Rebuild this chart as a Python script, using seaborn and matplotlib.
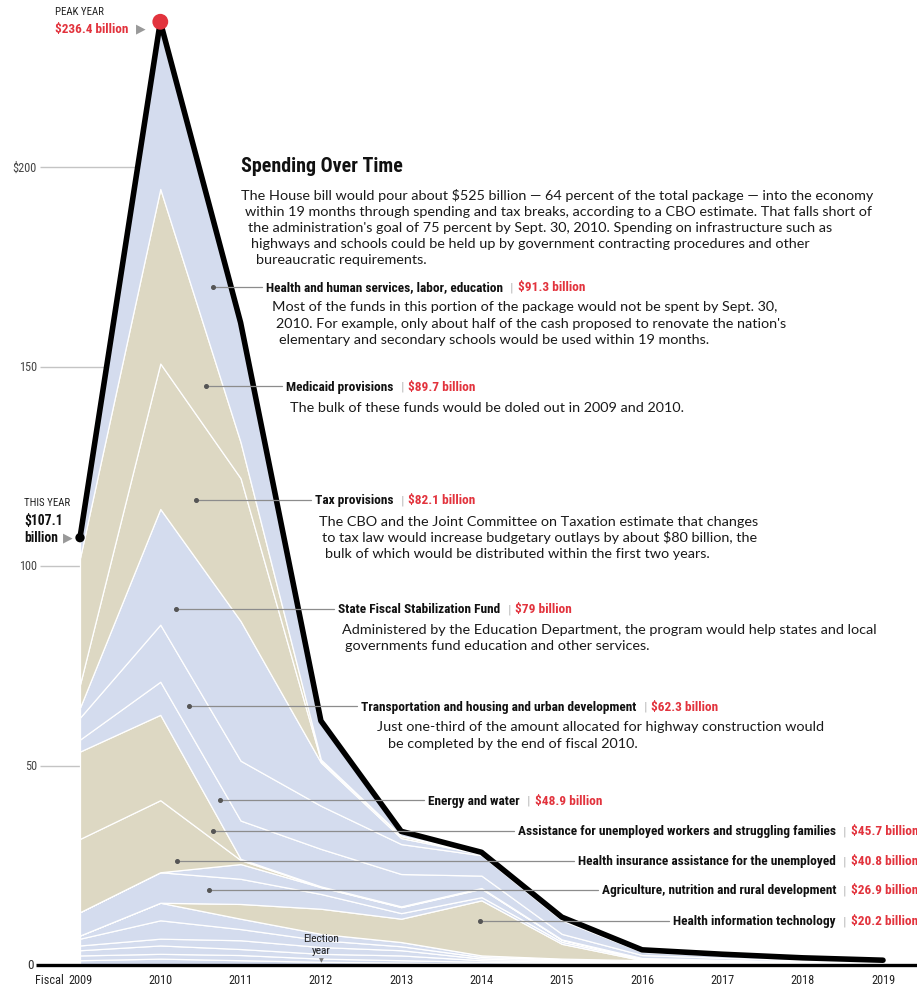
import numpy as np
import pandas as pd
import matplotlib
matplotlib.use("Agg")
import matplotlib.pyplot as plt
import seaborn as sns
from matplotlib import font_manager as fm
from matplotlib.lines import Line2D

# ---------------- data (billions of dollars, fiscal years) ----------------
years = [2009, 2010, 2011, 2012, 2013, 2014, 2015, 2016, 2017, 2018, 2019]

# smaller programs at the bottom of the stack
other_1 = [1.2, 1.6, 1.2, 0.8, 0.6, 0.3, 0.2, 0.15, 0.1, 0.1, 0.05]
other_2 = [1.2, 1.2, 1.3, 0.8, 0.6, 0.5, 0.3, 0.25, 0.2, 0.1, 0.05]
other_3 = [1.3, 2.1, 1.5, 1.2, 1.2, 0.4, 0.3, 0.2, 0.15, 0.1, 0.1]
other_4 = [1.2, 1.7, 2.2, 1.7, 1.3, 0.4, 0.3, 0.2, 0.15, 0.1, 0.05]
other_5 = [1.7, 4.6, 2.8, 1.7, 1.0, 0.4, 0.3, 0.2, 0.15, 0.1, 0.05]
other_6 = [0.8, 4.4, 2.6, 1.6, 1.05, 0.4, 0.2, 0.2, 0.15, 0.1, 0.1]
health_it = [0, 0, 3.7, 6.3, 5.85, 13.8, 3.7, 0, 0, 0, 0]
agriculture = [5.85, 7.65, 6.3, 3.7, 1.4, 0.8, 0.5, 0.3, 0.2, 0.15, 0.1]
other_7 = [0, 0, 3.7, 1.7, 1.5, 2.1, 0.5, 0.2, 0.15, 0.1, 0.05]
health_insurance = [18.35, 18.05, 1.0, 0.1, 0.1, 0.1, 0.05, 0, 0, 0, 0]
assistance = [21.9, 21.4, 0.3, 0.1, 0.1, 0.1, 0.05, 0.05, 0.05, 0.05, 0.05]
energy = [3.0, 8.3, 9.6, 9.4, 8.1, 3.1, 1.4, 0.75, 0.5, 0.3, 0.2]
transportation = [5.5, 14.3, 15.0, 10.8, 7.5, 5.1, 3.4, 0.8, 0.6, 0.4, 0.25]
state_fiscal = [2.5, 29.0, 35.0, 10.85, 1.5, 0.3, 0.3, 0.2, 0.1, 0.05, 0.05]
tax = [5.8, 36.45, 35.8, 0.45, 0.5, 0.1, 0.1, 0.05, 0.05, 0.05, 0.02]
medicaid = [31.7, 43.75, 9.0, 0.3, 0.1, 0.1, 0.1, 0.05, 0.05, 0.02, 0.02]
hhs = [5.1, 41.9, 30.0, 9.7, 1.1, 0.25, 0.3, 0.2, 0.1, 0.08, 0.06]

y_ticks = [0, 50, 100, 150, 200]
y_tick_labels = ["0", "50", "100", "150", "$200"]

labels = ["Health and human services, labor, education", "Medicaid provisions",
          "Tax provisions", "State Fiscal Stabilization Fund",
          "Transportation and housing and urban development", "Energy and water",
          "Assistance for unemployed workers and struggling families",
          "Health insurance assistance for the unemployed",
          "Agriculture, nutrition and rural development", "Health information technology"]
amounts = ["$91.3 billion", "$89.7 billion", "$82.1 billion", "$79 billion",
           "$62.3 billion", "$48.9 billion", "$45.7 billion", "$40.8 billion",
           "$26.9 billion", "$20.2 billion"]

BLUE = "#d4dcee"
BEIGE = "#ddd8c3"
RED = "#e2333d"

layers = [other_1, other_2, other_3, other_4, other_5, other_6, health_it, agriculture,
          other_7, health_insurance, assistance, energy, transportation, state_fiscal,
          tax, medicaid, hhs]
colors = [BLUE] * 6 + [BEIGE, BLUE, BLUE, BEIGE, BEIGE, BLUE, BLUE, BLUE, BEIGE, BEIGE, BLUE]
total = np.sum(np.array(layers), axis=0)

# ---------------- fonts ----------------
sns.set_theme(style="white")


def has_font(name):
    try:
        fm.findfont(fm.FontProperties(family=name), fallback_to_default=False)
        return True
    except Exception:
        return False


NARROW = next((f for f in ["Liberation Sans Narrow", "Roboto Condensed", "Liberation Sans"]
               if has_font(f)), "DejaVu Sans")
BODY = "Lato" if has_font("Lato") else "DejaVu Sans"
plt.rcParams["font.family"] = [BODY, "DejaVu Sans"]

# ---------------- figure ----------------
W, H = 917, 987
fig = plt.figure(figsize=(W / 100, H / 100), dpi=100)
ax = fig.add_axes([0, 0, 1, 1])

XL0, XL1 = 2009 - 80 / 80.3, 2019 + 34 / 80.3
YL0, YL1 = -(H - 966) / 3.99, 966 / 3.99


def X(px):
    return XL0 + px / W * (XL1 - XL0)


def Y(py):
    return YL1 - py / H * (YL1 - YL0)


def fx(px):
    return px / W


def fy(py):
    return 1 - py / H


# grid lines & y labels
ax.hlines(y_ticks[1:], X(40), 2010, colors="#c4c4c4", lw=1.0, zorder=1)
for v, lab in zip(y_ticks, y_tick_labels):
    if v == 0:
        fig.text(fx(34), fy(966), lab, ha="right", va="center", fontsize=9.5,
                 family=[NARROW, "DejaVu Sans"], color="#333333")
    else:
        ax.text(X(37), v, lab, ha="right", va="center", fontsize=8.8,
                family=[NARROW, "DejaVu Sans"], color="#444444")

# stacked areas
ax.stackplot(years, *layers, colors=colors, edgecolor="white", linewidth=0.9, zorder=2)

# total line
df = pd.DataFrame({"year": years, "total": total})
sns.lineplot(data=df, x="year", y="total", color="black", lw=4.0, ax=ax, zorder=4,
             legend=False)

# baseline
ax.hlines(0, X(36), X(917), colors="black", lw=2.4, zorder=5)

# highlight dots
sns.scatterplot(x=[years[1]], y=[total[1]], s=130, color=RED, ax=ax, zorder=7,
                edgecolor="none", legend=False)
sns.scatterplot(x=[years[0]], y=[total[0]], s=45, color="black", ax=ax, zorder=7,
                edgecolor="none", legend=False)

ax.set_xlim(XL0, XL1)
ax.set_ylim(YL0, YL1)
ax.axis("off")

# x labels
for yr in years:
    ax.text(yr, Y(981), str(yr), ha="center", va="center", fontsize=8.8,
            family=[NARROW, "DejaVu Sans"], color="#222222")
fig.text(fx(64), fy(981), "Fiscal", ha="right", va="center", fontsize=8.8,
         family=[NARROW, "DejaVu Sans"], color="#222222")

# election year
fig.text(fx(321), fy(939), "Election", ha="center", va="center", fontsize=8.2,
         family=[NARROW, "DejaVu Sans"], color="#222222")
fig.text(fx(321), fy(951), "year", ha="center", va="center", fontsize=8.2,
         family=[NARROW, "DejaVu Sans"], color="#222222")
fig.text(fx(321), fy(961), "\u25BC", ha="center", va="center", fontsize=4.5,
         family="DejaVu Sans", color="#777777")

# peak / this year callouts
fig.text(fx(55), fy(12), "PEAK YEAR", ha="left", va="center", fontsize=7.8,
         family=[NARROW, "DejaVu Sans"], color="#222222")
fig.text(fx(55), fy(29), "$236.4 billion", ha="left", va="center", fontsize=9.5,
         family=[NARROW, "DejaVu Sans"], weight="bold", color=RED)
fig.text(fx(136), fy(29), "\u25B6", ha="left", va="center", fontsize=9,
         family="DejaVu Sans", color="#999999")
fig.text(fx(24), fy(503), "THIS YEAR", ha="left", va="center", fontsize=7.8,
         family=[NARROW, "DejaVu Sans"], color="#222222")
fig.text(fx(24), fy(521), "$107.1", ha="left", va="center", fontsize=9.8,
         family=[NARROW, "DejaVu Sans"], weight="bold", color="#111111")
fig.text(fx(24), fy(538), "billion", ha="left", va="center", fontsize=9.8,
         family=[NARROW, "DejaVu Sans"], weight="bold", color="#111111")
fig.text(fx(63), fy(538), "\u25B6", ha="left", va="center", fontsize=9,
         family="DejaVu Sans", color="#999999")

# title and intro
fig.text(fx(241), fy(167), "Spending Over Time", ha="left", va="center", fontsize=14.4,
         family=[NARROW, "DejaVu Sans"], weight="bold", color="#111111")
intro = [
    (241, 195, "The House bill would pour about $525 billion \u2014 64 percent of the total package \u2014 into the economy"),
    (245, 212, "within 19 months through spending and tax breaks, according to a CBO estimate. That falls short of"),
    (248, 228, "the administration's goal of 75 percent by Sept. 30, 2010. Spending on infrastructure such as"),
    (251, 244, "highways and schools could be held up by government contracting procedures and other"),
    (256, 260, "bureaucratic requirements."),
]
BODY_KW = dict(ha="left", va="center", fontsize=10.4, color="#1a1a1a")
for x, y, s in intro:
    fig.text(fx(x), fy(y), s, **BODY_KW)

renderer = fig.canvas.get_renderer()
LAB_KW = dict(va="center", fontsize=9.6, family=[NARROW, "DejaVu Sans"], weight="bold",
              color="#111111")


def callout(i, dot, y, x, align, subs=()):
    t = fig.text(fx(x), fy(y), labels[i], ha=align, **LAB_KW)
    bb = t.get_window_extent(renderer=renderer)
    left, right = bb.x0, bb.x1
    fig.text(fx(right + 7), fy(y), "|", ha="left", va="center", fontsize=8,
             color="#b0b0b0", family="DejaVu Sans")
    fig.text(fx(right + 15), fy(y), amounts[i], ha="left", **{**LAB_KW, "color": RED})
    fig.add_artist(Line2D([fx(dot), fx(left - 4)], [fy(y), fy(y)], color="#8c8c8c",
                          lw=0.9, zorder=8))
    fig.add_artist(Line2D([fx(dot)], [fy(y)], marker="o", ms=2.6, color="#555555",
                          zorder=9))
    for sx, sy, s in subs:
        fig.text(fx(sx), fy(sy), s, **BODY_KW)


callout(0, 213, 288, 266, "left", [
    (272, 307, "Most of the funds in this portion of the package would not be spent by Sept. 30,"),
    (276, 324, "2010. For example, only about half of the cash proposed to renovate the nation's"),
    (279, 340, "elementary and secondary schools would be used within 19 months."),
])
callout(1, 206, 387, 286, "left", [
    (290, 408, "The bulk of these funds would be doled out in 2009 and 2010."),
])
callout(2, 196, 501, 315, "left", [
    (319, 522, "The CBO and the Joint Committee on Taxation estimate that changes"),
    (322, 538, "to tax law would increase budgetary outlays by about $80 billion, the"),
    (325, 554, "bulk of which would be distributed within the first two years."),
])
callout(3, 176, 610, 338, "left", [
    (342, 630, "Administered by the Education Department, the program would help states and local"),
    (345, 646, "governments fund education and other services."),
])
callout(4, 189, 707, 361, "left", [
    (377, 727, "Just one-third of the amount allocated for highway construction would"),
    (388, 744, "be completed by the end of fiscal 2010."),
])
callout(5, 220, 801, 428, "left")
callout(6, 213, 832, 836, "right")
callout(7, 177, 862, 836, "right")
callout(8, 209, 891, 836, "right")
callout(9, 480, 922, 836, "right")

fig.savefig("out.png", dpi=100, facecolor="white")
